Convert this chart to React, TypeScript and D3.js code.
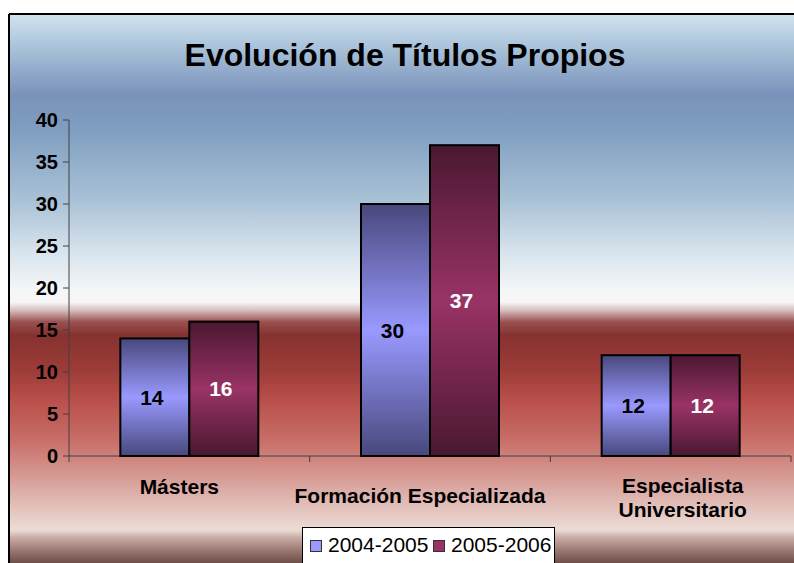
import React from "react";
import * as d3 from "d3";

const categories = ["Másters", "Formación Especializada", "Especialista Universitario"];
const seriesNames = ["2004-2005", "2005-2006"];
const values2004 = [14, 30, 12];
const values2005 = [16, 37, 12];
const yTicks = [0, 5, 10, 15, 20, 25, 30, 35, 40];
const title = "Evolución de Títulos Propios";

const W = 794, H = 563;
const left = 69, right = 791, top = 120, bottom = 456;

const bgStops: [number, string][] = [
  [15, "#d0e2ef"], [50, "#a6c0d8"], [95, "#7a92ba"], [130, "#7f9ec0"],
  [200, "#a9c1d6"], [250, "#d6e2ec"], [290, "#f4f6f8"], [302, "#f8f6f6"],
  [310, "#d8c0c0"], [322, "#9a5050"], [335, "#863230"], [370, "#9c3c38"],
  [400, "#b94f4a"], [440, "#c86e68"], [470, "#d4928c"], [500, "#e0b8b2"],
  [530, "#ecdcd6"], [538, "#c8aaa4"], [550, "#9c7a74"], [563, "#6e4e48"],
];

const labelLines = [["Másters"], ["Formación Especializada"], ["Especialista", "Universitario"]];
const labelDx = [-10, -10, 12];
const labelBaseline = [494, 503, 493];

export default function App() {
  const x0 = d3.scaleBand<string>().domain(categories).range([left, right]).paddingInner(0).paddingOuter(0);
  const bw = 69;
  const y = d3.scaleLinear().domain([0, 40]).range([bottom, top]);
  const series = [values2004, values2005];
  const font = "'Liberation Sans', Arial, sans-serif";
  const legendX = [310, 433];
  return (
    <svg width={W} height={H} style={{ position: "absolute", left: 0, top: 0 }} fontFamily={font}>
      <defs>
        <linearGradient id="bg" gradientUnits="userSpaceOnUse" x1={0} y1={15} x2={0} y2={563}>
          {bgStops.map(([yy, c], i) => (
            <stop key={i} offset={(yy - 15) / (563 - 15)} stopColor={c} />
          ))}
        </linearGradient>
        <linearGradient id="g0" x1={0} y1={0} x2={0} y2={1}>
          <stop offset={0} stopColor="#48487c" />
          <stop offset={0.5} stopColor="#9999ff" />
          <stop offset={1} stopColor="#48487c" />
        </linearGradient>
        <linearGradient id="g1" x1={0} y1={0} x2={0} y2={1}>
          <stop offset={0} stopColor="#4a1830" />
          <stop offset={0.5} stopColor="#993366" />
          <stop offset={1} stopColor="#4a1830" />
        </linearGradient>
      </defs>
      <rect x={0} y={0} width={W} height={H} fill="#ffffff" />
      <rect x={10} y={15} width={W - 10} height={H - 15} fill="url(#bg)" />
      <line x1={9} y1={14} x2={W} y2={14} stroke="#000" strokeWidth={2} />
      <line x1={9} y1={14} x2={9} y2={H} stroke="#000" strokeWidth={2} />
      <text x={405} y={66} textAnchor="middle" fontSize={32} fontWeight="bold" fill="#000">{title}</text>

      {/* y axis */}
      <line x1={left} y1={top} x2={left} y2={bottom} stroke="#404040" strokeWidth={1} />
      {yTicks.map((t) => (
        <g key={t}>
          <line x1={left - 6} x2={left} y1={y(t)} y2={y(t)} stroke="#404040" />
          <text x={58} y={y(t)} dy="0.36em" textAnchor="end" fontSize={20} fontWeight="bold">{t}</text>
        </g>
      ))}
      {/* x axis */}
      <line x1={left} y1={bottom} x2={right} y2={bottom} stroke="#404040" />
      {[...categories.map((c) => x0(c)!), right].map((xx, i) => (
        <line key={i} x1={xx} x2={xx} y1={bottom} y2={bottom + 6} stroke="#404040" />
      ))}

      {categories.map((c, ci) => {
        const cx = x0(c)! + x0.bandwidth() / 2;
        return (
          <g key={c}>
            {series.map((vals, si) => {
              const bx = cx - bw + si * bw;
              const by = y(vals[ci]);
              return (
                <g key={si}>
                  <rect x={bx} y={by} width={bw} height={bottom - by} fill={`url(#g${si})`} stroke="#000" strokeWidth={2} />
                  <text x={bx + bw / 2 - 3} y={(by + bottom) / 2} dy="0.36em" textAnchor="middle" fontSize={21} fontWeight="bold" fill={si === 0 ? "#000" : "#fff"}>
                    {vals[ci]}
                  </text>
                </g>
              );
            })}
            <text textAnchor="middle" fontSize={21} fontWeight="bold">
              {labelLines[ci].map((l, li) => (
                <tspan key={li} x={cx + labelDx[ci]} y={labelBaseline[ci] + li * 24}>{l}</tspan>
              ))}
            </text>
          </g>
        );
      })}

      {/* legend */}
      <rect x={302.5} y={527.5} width={252} height={45} fill="#fff" stroke="#000" strokeWidth={1} />
      {seriesNames.map((s, i) => {
        const lx = legendX[i];
        return (
          <g key={s}>
            <rect x={lx + 0.5} y={540.5} width={11} height={11} fill={i === 0 ? "#9999ff" : "#993366"} stroke="#333" strokeWidth={1} />
            <text x={lx + 18} y={552} fontSize={21} fill="#000">{s}</text>
          </g>
        );
      })}
    </svg>
  );
}
